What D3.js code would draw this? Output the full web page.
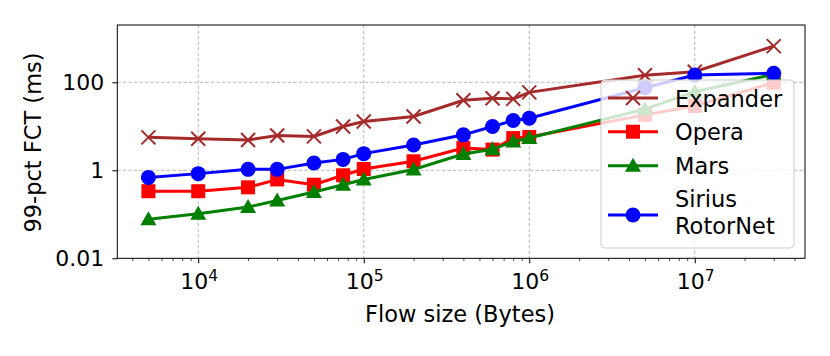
<!DOCTYPE html>
<html><head><meta charset="utf-8">
<script src="https://cdn.jsdelivr.net/npm/d3@7"></script>
<style>body{margin:0;background:#fff}svg{display:block;font-family:"DejaVu Sans",sans-serif}</style>
</head><body><svg id="c" width="830" height="356"></svg>
<script>
const flowSizes = [5e3, 1e4, 2e4, 3e4, 5e4, 7.5e4, 1e5, 2e5, 4e5, 6e5, 8e5, 1e6, 5e6, 1e7, 3e7];
const expander = [5.6, 5.2, 4.9, 6.2, 5.9, 9.9, 12.9, 16.7, 39, 43.5, 42, 59, 145, 174, 665];
const opera    = [0.335, 0.335, 0.41, 0.62, 0.47, 0.77, 1.07, 1.6, 3.2, 2.95, 5.4, 5.7, 18.2, 29, 98];
const mars     = [0.077, 0.103, 0.146, 0.206, 0.32, 0.47, 0.62, 1.04, 2.35, 3.0, 4.5, 5.4, 24.5, 61, 152];
const sirius   = [0.69, 0.84, 1.05, 1.05, 1.47, 1.77, 2.39, 3.76, 6.4, 9.9, 13.5, 15.3, 75, 146, 160];
const seriesNames = ["Expander", "Opera", "Mars", "Sirius\nRotorNet"];
const xTicks = [1e4, 1e5, 1e6, 1e7];
const yTicks = [0.01, 1, 100];
const yTickLabels = ["0.01", "1", "100"];
const xLabel = "Flow size (Bytes)";
const yLabel = "99-pct FCT (ms)";

const series = [
  {name: seriesNames[0], values: expander, color: "#a52a2a", marker: "x"},
  {name: seriesNames[1], values: opera, color: "#ff0000", marker: "s"},
  {name: seriesNames[2], values: mars, color: "#008000", marker: "^"},
  {name: seriesNames[3], values: sirius, color: "#0000ff", marker: "o"}
];

const FS = 22.5;
const svg = d3.select("#c");
const L = 117.3, R = 805, T = 25, B = 258.3;
const x = d3.scaleLog().domain([Math.pow(10, 3.511), Math.pow(10, 7.666)]).range([L, R]);
const y = d3.scaleLog().domain([0.01, Math.pow(10, 3.302)]).range([B, T]);

// grid
const g = svg.append("g");
xTicks.forEach(t => g.append("line").attr("x1", x(t)).attr("x2", x(t)).attr("y1", T).attr("y2", B)
  .attr("stroke", "#b0b0b0").attr("stroke-width", 0.9).attr("stroke-dasharray", "3.5,2"));
yTicks.slice(1).forEach(t => g.append("line").attr("x1", L).attr("x2", R).attr("y1", y(t)).attr("y2", y(t))
  .attr("stroke", "#b0b0b0").attr("stroke-width", 0.9).attr("stroke-dasharray", "3.5,2"));

// x axis minor + major ticks
const minor = [];
for (let e = 3; e <= 7; e++) for (let m = 2; m <= 9; m++) { const v = m * Math.pow(10, e); if (x(v) >= L && x(v) <= R) minor.push(v); }
const xAxisMinor = d3.axisBottom(x).tickValues(minor).tickSize(2.5).tickFormat("");
const xa2 = svg.append("g").attr("transform", `translate(0,${B})`).call(xAxisMinor);
xa2.select(".domain").remove();
xa2.selectAll("line").attr("stroke", "#000").attr("stroke-width", 0.8);
const xAxis = d3.axisBottom(x).tickValues(xTicks).tickSize(5).tickFormat("");
const xa = svg.append("g").attr("transform", `translate(0,${B})`).call(xAxis);
xa.select(".domain").remove();
xa.selectAll("line").attr("stroke", "#000").attr("stroke-width", 1);
xTicks.forEach(t => {
  const e = Math.round(Math.log10(t));
  const tx = svg.append("text").attr("x", x(t) + 1).attr("y", 288.5).attr("text-anchor", "middle")
    .attr("font-size", 22).attr("fill", "#000");
  tx.append("tspan").text("10");
  tx.append("tspan").attr("dy", -8).attr("font-size", 15.5).text(e);
});

const yAxis = d3.axisLeft(y).tickValues(yTicks).tickSize(5).tickFormat((d, i) => yTickLabels[i]);
const ya = svg.append("g").attr("transform", `translate(${L},0)`).call(yAxis);
ya.select(".domain").remove();
ya.selectAll("line").attr("stroke", "#000").attr("stroke-width", 1);
ya.selectAll("text").attr("font-size", 22).attr("font-family", "DejaVu Sans").attr("fill", "#000").attr("x", -13);

svg.append("text").attr("x", 460).attr("y", 322).attr("text-anchor", "middle").attr("font-size", FS).text(xLabel);
svg.append("text").attr("transform", "translate(41,142.5) rotate(-90)").attr("text-anchor", "middle").attr("font-size", FS).text(yLabel);

function drawMarker(sel, type, color, cx, cy) {
  if (type === "x") {
    const s = 7;
    sel.append("path").attr("d", `M${cx-s},${cy-s}L${cx+s},${cy+s}M${cx-s},${cy+s}L${cx+s},${cy-s}`)
      .attr("stroke", color).attr("stroke-width", 2).attr("fill", "none");
  } else if (type === "s") {
    sel.append("rect").attr("x", cx - 7).attr("y", cy - 7).attr("width", 14).attr("height", 14).attr("fill", color);
  } else if (type === "^") {
    sel.append("path").attr("d", `M${cx},${cy-8}L${cx+8},${cy+6}L${cx-8},${cy+6}Z`).attr("fill", color);
  } else {
    sel.append("circle").attr("cx", cx).attr("cy", cy).attr("r", 7.5).attr("fill", color);
  }
}

const plot = svg.append("g");
const line = d3.line().x((d, i) => x(flowSizes[i])).y(d => y(d));
series.forEach(s => {
  const gs = plot.append("g");
  gs.append("path").datum(s.values).attr("d", line).attr("fill", "none").attr("stroke", s.color).attr("stroke-width", 3);
  s.values.forEach((v, i) => drawMarker(gs, s.marker, s.color, x(flowSizes[i]), y(v)));
});

// frame
svg.append("rect").attr("x", L).attr("y", T).attr("width", R - L).attr("height", B - T)
  .attr("fill", "none").attr("stroke", "#000").attr("stroke-width", 1);

// legend
const lg = svg.append("g");
lg.append("rect").attr("x", 601).attr("y", 80).attr("width", 193).attr("height", 168).attr("rx", 4)
  .attr("fill", "#fff").attr("fill-opacity", 0.8).attr("stroke", "#cccccc").attr("stroke-width", 1);
const rows = [98, 131.7, 165.7, 215];
series.forEach((s, i) => {
  const cy = rows[i];
  lg.append("line").attr("x1", 608).attr("x2", 658).attr("y1", cy).attr("y2", cy).attr("stroke", s.color).attr("stroke-width", 3);
  drawMarker(lg, s.marker, s.color, 633, cy);
  const parts = s.name.split("\n");
  if (parts.length === 1) {
    lg.append("text").attr("x", 675).attr("y", cy + 8.5).attr("font-size", FS).attr("fill", "#000").text(parts[0]);
  } else {
    parts.forEach((p, k) => lg.append("text").attr("x", 675).attr("y", cy - 8 + k * 26.5)
      .attr("font-size", FS).attr("fill", "#000").text(p));
  }
});
</script></body></html>
